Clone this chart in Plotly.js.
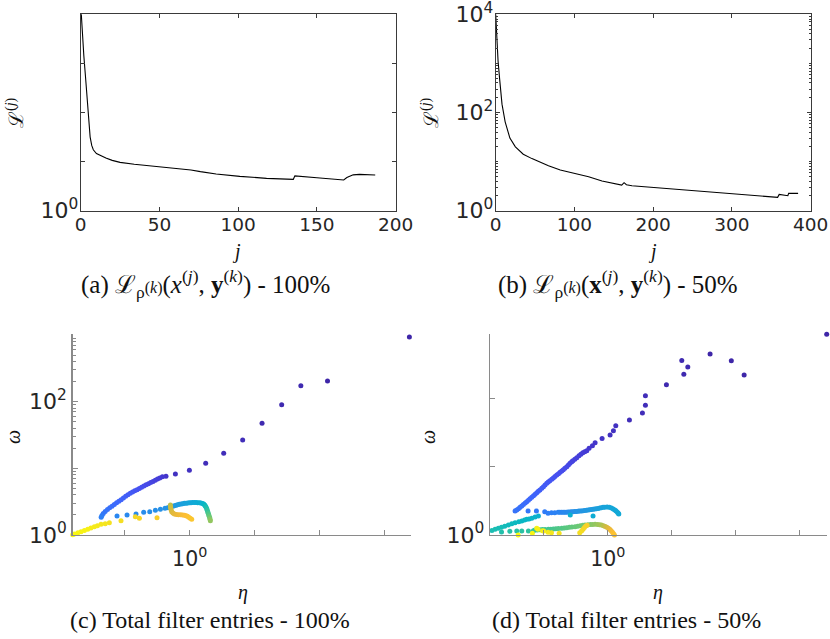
<!DOCTYPE html>
<html><head><meta charset="utf-8">
<script src="https://cdn.plot.ly/plotly-3.0.1.min.js"></script>
<style>html,body{margin:0;padding:0;background:#fff;} #chart{width:830px;height:639px;}</style>
</head><body><div id="chart"></div>
<script>
// ---- Panel (a): augmented Lagrangian vs inner iteration j, 100%
const iterA = [0,1,2,3,4,5,6,7,8,10,13,16,20,25,34,50,63,70,76,86,101,118,135,136,150,167,169,173,177,187];
const lossA = [15849,3981,1413,562,195,69,31.6,21.4,17.4,14.6,12.9,11.8,10.6,9.66,8.81,7.87,7.28,6.76,6.24,5.58,5.01,4.56,4.35,5.13,4.70,4.22,4.73,5.37,5.50,5.33];

// ---- Panel (b): 50%
const iterB = [0,1,2,3,5,6,8,12,18,25,35,46,56,67,82,101,118,135,160,163,166,173,194,236,278,321,358,360,371,372,384];
const lossB = [10000,3981,1995,1122,479,331,148,64.6,30.2,19.95,14.1,11.5,9.66,8.26,6.76,5.68,4.93,4.02,3.33,3.72,3.39,3.23,3.03,2.68,2.37,2.09,1.87,2.15,2.02,2.25,2.25];

// ---- Panel (c): filter entries [log10(eta), log10(omega), iteration fraction], 100%
const filterC = [
[3.38,2.97,0.00],[2.12,2.31,0.00],[1.71,2.24,0.01],[1.415,1.954,0.01],[1.113,1.675,0.01],[0.815,1.424,0.02],
[0.523,1.225,0.02],[0.246,1.075,0.02],[-0.005,0.97,0.03],[-0.22,0.915,0.03],[-0.365,0.88,0.04],
[-0.42,0.872,0.05],[-0.46,0.855,0.055],[-0.495,0.838,0.06],[-0.53,0.82,0.065],[-0.565,0.803,0.07],[-0.60,0.787,0.075],
[-0.635,0.77,0.08],[-0.67,0.753,0.085],[-0.705,0.735,0.09],[-0.74,0.716,0.095],[-0.775,0.698,0.10],[-0.81,0.68,0.105],
[-0.845,0.663,0.11],[-0.88,0.645,0.115],[-0.915,0.625,0.12],[-0.95,0.603,0.125],[-0.985,0.58,0.13],[-1.02,0.555,0.135],
[-1.055,0.528,0.14],[-1.09,0.505,0.145],[-1.125,0.482,0.15],[-1.16,0.458,0.155],[-1.195,0.433,0.16],[-1.23,0.408,0.165],
[-1.265,0.382,0.17],[-1.30,0.352,0.175],[-1.33,0.322,0.18],[-1.35,0.292,0.19],[-1.362,0.265,0.20],
[-1.118,0.285,0.22],[-0.964,0.30,0.225],[-0.826,0.315,0.23],[-0.708,0.34,0.235],[-0.615,0.35,0.24],[-0.528,0.37,0.245],
[-0.451,0.385,0.25],[-0.38,0.40,0.255],[-0.338,0.41,0.26],[-0.31,0.418,0.265],[-0.287,0.425,0.27],[-0.262,0.432,0.275],
[-0.236,0.44,0.28],[-0.21,0.448,0.285],[-0.185,0.455,0.29],[-0.16,0.46,0.295],[-0.133,0.465,0.30],[-0.108,0.47,0.305],
[-0.082,0.475,0.31],[-0.056,0.478,0.315],[-0.03,0.48,0.32],[-0.005,0.483,0.325],[0.02,0.485,0.33],[0.045,0.486,0.335],
[0.072,0.486,0.34],[0.098,0.486,0.345],[0.123,0.485,0.35],[0.15,0.484,0.355],[0.174,0.48,0.36],[0.197,0.474,0.37],
[0.215,0.465,0.38],
[0.23,0.45,0.40],[0.241,0.435,0.42],[0.252,0.415,0.44],[0.262,0.395,0.46],[0.27,0.372,0.48],[0.277,0.35,0.50],
[0.285,0.328,0.52],[0.292,0.305,0.54],[0.30,0.283,0.56],[0.308,0.26,0.58],[0.313,0.238,0.60],[0.318,0.215,0.62],
[-0.297,0.45,0.68],[-0.295,0.425,0.69],[-0.292,0.40,0.70],[-0.285,0.375,0.71],[-0.277,0.35,0.72],[-0.258,0.33,0.73],
[-0.236,0.315,0.74],[-0.205,0.308,0.75],[-0.174,0.305,0.76],[-0.14,0.302,0.77],[-0.108,0.30,0.78],[-0.08,0.295,0.79],
[-0.056,0.29,0.80],[-0.035,0.28,0.81],[-0.015,0.265,0.82],[0.008,0.25,0.83],[0.031,0.235,0.84],
[-0.503,0.26,0.87],[-0.774,0.25,0.89],[-0.836,0.275,0.90],[-1.057,0.215,0.92],[-1.236,0.185,0.93],[-1.30,0.17,0.94],
[-1.364,0.16,0.945],[-1.42,0.14,0.95],[-1.467,0.125,0.955],[-1.52,0.105,0.96],[-1.569,0.085,0.97],[-1.62,0.068,0.975],
[-1.672,0.05,0.98],[-1.72,0.033,0.985],[-1.774,0.015,0.99],[-1.80,0.005,1.0]
];

// ---- Panel (d): filter entries, 50%
const filterD = [
[3.42,2.94,0.0],[1.93,2.552,0.0],[2.13,2.343,0.0],[1.598,2.65,0.0],[1.156,2.557,0.01],[1.25,2.46,0.01],
[1.188,2.353,0.01],[0.916,2.2,0.01],[0.588,2.04,0.02],[0.588,1.899,0.02],[0.541,1.786,0.02],[0.338,1.684,0.02],
[0.125,1.60,0.03],[0.088,1.527,0.03],[0.036,1.464,0.03],[-0.089,1.415,0.035],[-0.198,1.351,0.04],[-0.24,1.307,0.04],
[-0.292,1.269,0.045],
[-0.328,1.234,0.05],[-0.36,1.218,0.053],[-0.39,1.204,0.056],[-0.42,1.184,0.059],[-0.45,1.16,0.062],[-0.484,1.132,0.065],
[-0.515,1.108,0.068],[-0.545,1.086,0.071],[-0.5625,1.073,0.074],[-0.59,1.05,0.077],[-0.615,1.025,0.08],[-0.64,1.0,0.083],
[-0.67,0.976,0.086],[-0.695,0.955,0.089],[-0.719,0.937,0.092],[-0.745,0.918,0.095],[-0.77,0.898,0.098],[-0.797,0.878,0.10],
[-0.825,0.856,0.103],[-0.85,0.835,0.106],[-0.875,0.815,0.109],[-0.905,0.793,0.112],[-0.93,0.775,0.115],[-0.953,0.757,0.118],
[-0.98,0.732,0.121],[-1.005,0.708,0.124],[-1.031,0.683,0.127],[-1.06,0.66,0.13],[-1.085,0.64,0.133],[-1.109,0.619,0.136],
[-1.135,0.597,0.139],[-1.16,0.575,0.142],[-1.1875,0.552,0.145],[-1.215,0.53,0.148],[-1.24,0.51,0.151],[-1.266,0.488,0.154],
[-1.29,0.467,0.157],[-1.318,0.446,0.16],[-1.344,0.425,0.163],[-1.37,0.405,0.166],[-1.395,0.385,0.168],[-1.422,0.366,0.17],
[-1.448,0.351,0.172],
[-1.245,0.351,0.18],[-1.115,0.351,0.185],[-0.985,0.341,0.19],[-0.933,0.317,0.195],[-0.88,0.327,0.2],[-0.828,0.327,0.205],
[-0.776,0.332,0.21],[-0.75,0.332,0.214],[-0.724,0.332,0.218],[-0.698,0.332,0.222],[-0.672,0.334,0.226],[-0.646,0.335,0.23],
[-0.62,0.337,0.234],[-0.594,0.338,0.238],[-0.568,0.34,0.242],[-0.542,0.341,0.246],[-0.516,0.343,0.25],[-0.49,0.345,0.254],
[-0.464,0.347,0.258],[-0.438,0.35,0.262],[-0.412,0.353,0.266],[-0.386,0.356,0.27],[-0.36,0.36,0.274],[-0.334,0.363,0.278],
[-0.308,0.366,0.282],[-0.282,0.37,0.286],[-0.256,0.373,0.29],[-0.23,0.376,0.294],[-0.204,0.381,0.298],[-0.178,0.386,0.302],
[-0.151,0.39,0.306],[-0.125,0.395,0.31],[-0.099,0.40,0.313],[-0.073,0.405,0.316],[-0.045,0.408,0.319],[-0.01,0.41,0.322],
[0.025,0.405,0.325],[0.057,0.395,0.327],[0.085,0.382,0.329],[0.109,0.366,0.331],[0.13,0.35,0.333],[0.15,0.332,0.335],
[0.165,0.318,0.337],[0.172,0.307,0.34],
[-0.23,0.278,0.35],[-0.586,0.293,0.36],
[-1.084,0.278,0.37],[-1.136,0.262,0.375],[-1.1875,0.244,0.38],[-1.23,0.236,0.385],[-1.266,0.23,0.39],[-1.30,0.218,0.395],
[-1.344,0.205,0.40],[-1.39,0.193,0.405],[-1.448,0.18,0.41],[-1.50,0.163,0.415],[-1.553,0.146,0.42],[-1.61,0.13,0.425],
[-1.66,0.113,0.43],[-1.71,0.098,0.435],[-1.76,0.083,0.44],[-1.81,0.066,0.445],[-1.865,0.048,0.45],
[-1.66,0.044,0.46],[-1.53,0.054,0.465],[-1.422,0.059,0.47],[-1.344,0.059,0.475],[-1.24,0.059,0.48],[-1.162,0.063,0.485],
[-1.136,0.073,0.49],[-1.10,0.075,0.495],[-1.06,0.077,0.50],[-1.02,0.079,0.505],[-0.98,0.081,0.51],[-0.928,0.083,0.515],
[-0.89,0.086,0.52],[-0.85,0.089,0.525],[-0.81,0.092,0.53],[-0.77,0.095,0.535],[-0.719,0.098,0.54],[-0.68,0.103,0.545],
[-0.64,0.108,0.55],[-0.60,0.113,0.555],[-0.56,0.117,0.56],[-0.511,0.122,0.565],[-0.47,0.13,0.57],[-0.43,0.137,0.575],
[-0.39,0.143,0.58],[-0.355,0.146,0.585],[-0.31,0.15,0.59],[-0.27,0.153,0.60],[-0.235,0.155,0.61],[-0.198,0.156,0.62],
[-0.16,0.154,0.63],[-0.13,0.15,0.64],[-0.1,0.145,0.65],[-0.068,0.136,0.67],[-0.04,0.125,0.69],[-0.015,0.112,0.71],
[0.01,0.098,0.73],[0.035,0.08,0.75],[0.055,0.06,0.77],[0.073,0.04,0.79],[0.09,0.02,0.81],[0.104,0.0,0.83],
[-0.323,0.142,0.87],[-0.344,0.132,0.88],[-0.365,0.11,0.89],[-0.386,0.083,0.90],[-0.41,0.06,0.91],[-0.438,0.034,0.92],
[-0.76,0.025,0.93],[-0.88,0.034,0.94],[-0.933,0.04,0.95],[-1.0,0.059,0.96],[-1.02,0.063,0.965],[-1.089,0.083,0.97],
[-1.11,0.098,0.975],[-1.178,0.025,0.985],[-1.4,0.0,1.0]
];

const parula = [
[0.00,'rgb(62,38,168)'],[0.05,'rgb(69,57,210)'],[0.10,'rgb(71,80,240)'],[0.15,'rgb(62,104,252)'],
[0.20,'rgb(45,128,246)'],[0.25,'rgb(38,145,230)'],[0.30,'rgb(30,158,221)'],[0.35,'rgb(14,172,212)'],
[0.40,'rgb(8,183,196)'],[0.45,'rgb(30,191,176)'],[0.50,'rgb(56,196,152)'],[0.55,'rgb(90,200,128)'],
[0.60,'rgb(130,200,104)'],[0.65,'rgb(170,196,82)'],[0.70,'rgb(205,188,66)'],[0.75,'rgb(235,185,58)'],
[0.80,'rgb(254,190,52)'],[0.85,'rgb(250,200,44)'],[0.90,'rgb(245,215,38)'],[0.95,'rgb(245,232,28)'],
[1.00,'rgb(249,251,14)']
];

const sup0 = '10<sup>0</sup>', sup2 = '10<sup>2</sup>', sup4 = '10<sup>4</sup>';
function minorLog(maxExp, withDecades){
  const v=[];
  for(let e=0;e<maxExp;e++){ for(let m=2;m<=9;m++) v.push(m*Math.pow(10,e)); if(withDecades && e>0) v.push(Math.pow(10,e)); }
  return v;
}

const tickFont = {family:'DejaVu Sans, sans-serif', size:18.5, color:'#262626'};
const logFont = {family:'DejaVu Sans, sans-serif', size:22, color:'#262626'};
const serif = 'Liberation Serif, DejaVu Serif, serif';
const W=830, H=639;
const px = v => v/W, py = v => 1 - v/H;

const toPow = a => a.map(v => Math.pow(10, v));

const traces = [
  {x: iterA, y: lossA, xaxis:'x', yaxis:'y', mode:'lines', line:{color:'#000', width:1.1}, hoverinfo:'skip'},
  {x: iterB, y: lossB, xaxis:'x2', yaxis:'y2', mode:'lines', line:{color:'#000', width:1.1}, hoverinfo:'skip'},
  {x: toPow(filterC.map(p=>p[0])), y: toPow(filterC.map(p=>p[1])), xaxis:'x3', yaxis:'y3', mode:'markers', cliponaxis:false,
   marker:{size:5, color: filterC.map(p=>p[2]), colorscale: parula, cmin:0, cmax:1, showscale:false, line:{width:0}}},
  {x: toPow(filterD.map(p=>p[0])), y: toPow(filterD.map(p=>p[1])), xaxis:'x4', yaxis:'y4', mode:'markers', cliponaxis:false,
   marker:{size:5, color: filterD.map(p=>p[2]), colorscale: parula, cmin:0, cmax:1, showscale:false, line:{width:0}}}
];

const boxAx = {showline:true, mirror:'ticks', linecolor:'#3a3a3a', linewidth:1, ticks:'inside', ticklen:4, tickcolor:'#3a3a3a',
  showgrid:false, zeroline:false, tickfont:tickFont, ticklabeloverflow:'allow'};
const openAx = {showline:true, linecolor:'#8a8a8a', linewidth:1.4, ticks:'inside', ticklen:5, tickcolor:'#8a8a8a',
  showgrid:false, zeroline:false, tickfont:logFont, ticklabeloverflow:'allow'};

const layout = {
  width: W, height: H, margin:{l:0,r:0,t:0,b:0}, paper_bgcolor:'#fff', plot_bgcolor:'#fff', showlegend:false,
  xaxis: Object.assign({}, boxAx, {domain:[px(80.7), px(395.7)], range:[0,200], tickmode:'array', tickvals:[0,50,100,150,200], anchor:'y', ticklabelstandoff:-3}),
  yaxis: Object.assign({}, boxAx, {domain:[py(210.7), py(14.3)], type:'log', range:[0,4], tickmode:'array', tickfont:logFont,
    tickvals:[1,10,100,1000,10000], ticktext:[sup0,'','','',''], anchor:'x', ticklabelstandoff:-3}),
  xaxis2: Object.assign({}, boxAx, {domain:[px(495.7), px(810.7)], range:[0,400], tickmode:'array', tickvals:[0,100,200,300,400], anchor:'y2', ticklabelstandoff:-3}),
  yaxis2: Object.assign({}, boxAx, {domain:[py(210.7), py(14.3)], type:'log', range:[0,4], tickmode:'array', tickfont:logFont,
    tickvals:[1,100,10000], ticktext:[sup0,sup2,sup4], anchor:'x2', ticklabelstandoff:-3,
    minor:{tickmode:'array', tickvals:minorLog(4,true), ticks:'inside', ticklen:2, tickcolor:'#3a3a3a'}}),
  xaxis3: Object.assign({}, openAx, {domain:[px(72.7), px(410.7)], type:'log', range:[-1.8,3.4], tickmode:'array',
    tickvals:[0.1,1,10,100,1000], ticktext:['',sup0,'','',''], anchor:'y3', ticklabelstandoff:5, tickfont:Object.assign({}, logFont, {size:20.5})}),
  yaxis3: Object.assign({}, openAx, {domain:[py(535), py(334.3)], type:'log', range:[0,3.01], tickmode:'array',
    tickvals:[1,10,100,1000], ticktext:[sup0,'',sup2,''], anchor:'x3',
    minor:{tickmode:'array', tickvals:minorLog(3,false), ticks:'inside', ticklen:3, tickcolor:'#8a8a8a'}}),
  xaxis4: Object.assign({}, openAx, {domain:[px(490), px(826.7)], type:'log', range:[-1.84,3.42], tickmode:'array',
    tickvals:[0.1,1,10,100,1000], ticktext:['',sup0,'','',''], anchor:'y4', ticklabelstandoff:5, tickfont:Object.assign({}, logFont, {size:20.5})}),
  yaxis4: Object.assign({}, openAx, {domain:[py(535), py(334.3)], type:'log', range:[0,2.94], tickmode:'array',
    tickvals:[1,10,100], ticktext:[sup0,'',''], anchor:'x4'}),
  annotations: [
    {text:'ℒ<sup>(<i>j</i>)</sup>', x:px(15), y:py(113), textangle:-90},
    {text:'ℒ<sup>(<i>j</i>)</sup>', x:px(430), y:py(113), textangle:-90},
    {text:'<i>j</i>', x:px(236), y:py(252)},
    {text:'<i>j</i>', x:px(652), y:py(252)},
    {text:'<i>ω</i>', x:px(13), y:py(437), textangle:-90},
    {text:'<i>ω</i>', x:px(428), y:py(437), textangle:-90},
    {text:'<i>η</i>', x:px(243), y:py(592)},
    {text:'<i>η</i>', x:px(658), y:py(592)},
    {text:'(a) ℒ<sub>ρ</sub><span style="font-size:16px">(<i>k</i>)</span>(<i>x</i><sup>(<i>j</i>)</sup>, <b>y</b><sup>(<i>k</i>)</sup>) - 100%', x:px(205), y:py(284), size:25},
    {text:'(b) ℒ<sub>ρ</sub><span style="font-size:16px">(<i>k</i>)</span>(<b>x</b><sup>(<i>j</i>)</sup>, <b>y</b><sup>(<i>k</i>)</sup>) - 50%', x:px(618), y:py(284), size:25},
    {text:'(c) Total filter entries - 100%', x:px(210), y:py(620), size:24},
    {text:'(d) Total filter entries - 50%', x:px(626), y:py(620), size:24}
  ].map(a => ({text:a.text, x:a.x, y:a.y, xref:'paper', yref:'paper', showarrow:false, xanchor:'center', yanchor:'middle',
      textangle:a.textangle||0, font:{family:serif, size:a.size||20, color:'#111'}}))
};

Plotly.newPlot('chart', traces, layout, {staticPlot:true, displayModeBar:false});
</script></body></html>
